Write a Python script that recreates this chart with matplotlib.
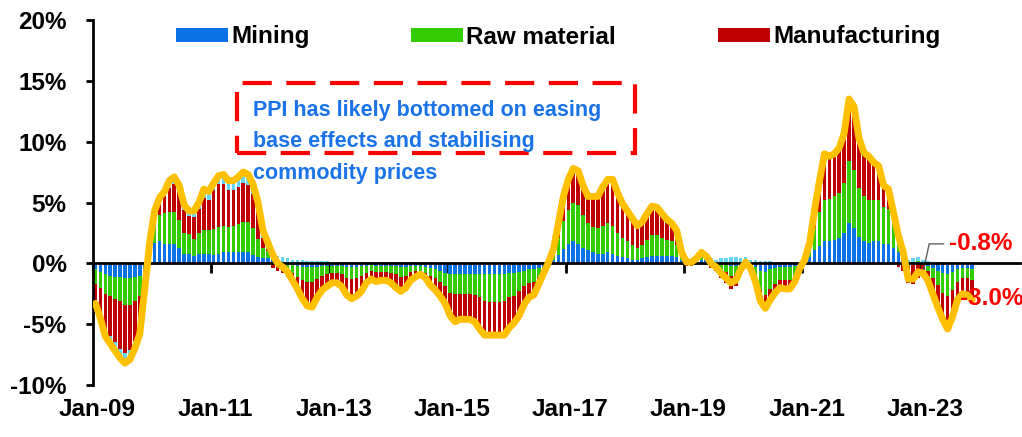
import numpy as np
import matplotlib.pyplot as plt
from matplotlib.patches import Rectangle

# China PPI, % yoy, monthly Jan-09 .. Nov-23
ppi = [
    -3.3, -4.5, -6.0, -6.6, -7.2, -7.8, -8.2, -7.9, -7.0, -5.8, -2.1, 1.7,
    4.3, 5.4, 5.9, 6.8, 7.1, 6.4, 4.8, 4.3, 4.3, 5.0, 6.1, 5.9,
    6.6, 7.2, 7.3, 6.8, 6.8, 7.1, 7.5, 7.3, 6.5, 5.0, 2.7, 1.7,
    0.7, 0.0, -0.3, -0.7, -1.4, -2.1, -2.9, -3.5, -3.6, -2.8, -2.2, -1.9,
    -1.6, -1.6, -1.9, -2.6, -2.9, -2.7, -2.3, -1.6, -1.3, -1.5, -1.4, -1.4,
    -1.6, -2.0, -2.3, -2.0, -1.4, -1.1, -0.9, -1.2, -1.8, -2.2, -2.7, -3.3,
    -4.3, -4.8, -4.6, -4.6, -4.6, -4.8, -5.4, -5.9, -5.9, -5.9, -5.9, -5.9,
    -5.3, -4.9, -4.3, -3.4, -2.8, -2.6, -1.7, -0.8, 0.1, 1.2, 3.3, 5.5,
    6.9, 7.8, 7.6, 6.4, 5.5, 5.5, 5.5, 6.3, 6.9, 6.9, 5.8, 4.9,
    4.3, 3.7, 3.1, 3.4, 4.1, 4.7, 4.6, 4.1, 3.6, 3.3, 2.7, 0.9,
    0.1, 0.1, 0.4, 0.9, 0.6, 0.0, -0.3, -0.8, -1.2, -1.6, -1.4, -0.5,
    0.1, -0.4, -1.5, -3.1, -3.7, -3.0, -2.4, -2.0, -2.1, -2.1, -1.5, -0.4,
    0.3, 1.7, 4.4, 6.8, 9.0, 8.8, 9.0, 9.5, 10.7, 13.5, 12.9, 10.3,
    9.1, 8.8, 8.3, 8.0, 6.4, 6.1, 4.2, 2.3, 0.9, -1.3, -1.3, -0.7,
    -0.8, -1.4, -2.5, -3.6, -4.6, -5.4, -4.4, -3.0, -2.5, -2.6, -3.0,
]

# contributions, ppt
mining = [
    -0.5, -0.7, -0.9, -1.0, -1.1, -1.1, -1.2, -1.2, -1.1, -1.0, -0.6, 0.3,
    1.7, 1.8, 1.6, 1.6, 1.6, 1.3, 0.8, 0.8, 0.6, 0.8, 0.8, 0.8,
    0.7, 0.8, 0.9, 0.9, 0.9, 0.9, 0.9, 0.9, 0.7, 0.5, 0.4, 0.4,
    0.3, 0.2, 0.1, 0.0, -0.1, -0.2, -0.3, -0.3, -0.3, -0.3, -0.2, -0.2,
    -0.2, -0.2, -0.2, -0.3, -0.3, -0.3, -0.2, -0.2, -0.1, -0.2, -0.2, -0.2,
    -0.2, -0.2, -0.3, -0.3, -0.2, -0.2, -0.2, -0.3, -0.4, -0.5, -0.6, -0.8,
    -0.9, -0.9, -0.9, -0.9, -0.9, -0.9, -0.9, -0.9, -0.9, -0.9, -0.9, -0.9,
    -0.8, -0.8, -0.7, -0.6, -0.5, -0.5, -0.4, -0.3, 0.0, 0.3, 0.7, 1.2,
    1.6, 1.8, 1.6, 1.3, 1.1, 0.9, 0.8, 0.8, 0.9, 0.8, 0.6, 0.5,
    0.4, 0.3, 0.3, 0.4, 0.5, 0.6, 0.6, 0.6, 0.6, 0.6, 0.5, 0.3,
    0.1, 0.1, 0.2, 0.3, 0.3, 0.1, 0.0, -0.1, -0.1, -0.2, -0.2, 0.0,
    0.2, 0.0, -0.3, -0.6, -0.7, -0.5, -0.4, -0.3, -0.3, -0.3, -0.2, 0.0,
    0.2, 0.5, 1.1, 1.4, 1.8, 1.8, 1.9, 2.1, 2.5, 3.3, 2.9, 2.2,
    1.8, 1.7, 1.8, 1.8, 1.6, 1.6, 1.3, 0.9, 0.5, 0.0, 0.1, 0.1,
    0.0, -0.2, -0.4, -0.6, -0.8, -0.9, -0.7, -0.5, -0.4, -0.4, -0.5,
]
raw_material = [
    -1.2, -1.3, -1.6, -1.7, -1.8, -2.0, -2.2, -2.2, -2.0, -1.7, -0.8, 0.6,
    2.0, 2.2, 2.5, 2.6, 2.6, 2.3, 1.7, 1.6, 1.4, 1.7, 1.9, 1.9,
    2.1, 2.2, 2.2, 2.1, 2.2, 2.3, 2.5, 2.5, 2.2, 1.5, 0.9, 0.6,
    0.2, 0.0, -0.2, -0.4, -0.7, -0.9, -1.1, -1.2, -1.2, -1.0, -0.8, -0.7,
    -0.6, -0.6, -0.7, -0.9, -1.0, -0.9, -0.8, -0.6, -0.5, -0.5, -0.5, -0.5,
    -0.6, -0.7, -0.8, -0.7, -0.5, -0.4, -0.4, -0.5, -0.6, -0.7, -0.9, -1.1,
    -1.5, -1.6, -1.6, -1.6, -1.6, -1.7, -1.9, -2.2, -2.3, -2.3, -2.3, -2.2,
    -2.0, -1.9, -1.6, -1.3, -1.1, -1.0, -0.7, -0.3, 0.1, 0.5, 1.4, 2.3,
    2.8, 3.2, 3.2, 2.7, 2.2, 2.1, 2.1, 2.3, 2.4, 2.3, 1.9, 1.6,
    1.4, 1.2, 1.0, 1.1, 1.4, 1.7, 1.7, 1.5, 1.3, 1.2, 1.0, 0.4,
    -0.1, -0.1, 0.0, 0.2, 0.1, -0.2, -0.3, -0.5, -0.6, -0.8, -0.7, -0.4,
    -0.1, -0.3, -0.8, -1.6, -1.9, -1.6, -1.3, -1.1, -1.1, -1.1, -0.8, -0.2,
    0.1, 0.7, 1.8, 2.8, 3.4, 3.5, 3.6, 3.7, 4.1, 5.1, 4.8, 4.0,
    3.7, 3.5, 3.4, 3.4, 3.0, 2.9, 2.2, 1.5, 0.8, -0.2, 0.0, 0.1,
    -0.1, -0.4, -0.8, -1.2, -1.6, -1.8, -1.5, -1.0, -0.8, -0.8, -0.9,
]
manufacturing = [
    -1.3, -2.1, -3.0, -3.3, -3.6, -3.9, -4.0, -3.7, -3.3, -2.7, -0.6, 0.7,
    0.4, 0.9, 1.4, 2.0, 2.3, 2.3, 1.9, 1.5, 1.8, 2.0, 2.7, 2.5,
    3.2, 3.5, 3.4, 3.0, 2.9, 3.1, 3.2, 3.0, 2.8, 2.3, 0.8, 0.2,
    -0.4, -0.6, -0.6, -0.7, -0.9, -1.3, -1.8, -2.2, -2.3, -1.7, -1.4, -1.2,
    -0.9, -0.9, -1.1, -1.5, -1.7, -1.6, -1.4, -0.9, -0.8, -0.9, -0.8, -0.8,
    -0.9, -1.2, -1.3, -1.1, -0.8, -0.6, -0.4, -0.5, -0.8, -1.0, -1.2, -1.4,
    -1.9, -2.2, -2.0, -2.0, -2.0, -2.1, -2.5, -2.7, -2.6, -2.6, -2.6, -2.7,
    -2.4, -2.1, -1.9, -1.5, -1.2, -1.1, -0.7, -0.3, -0.1, 0.3, 1.1, 1.8,
    2.3, 2.6, 2.6, 2.2, 2.0, 2.3, 2.4, 3.0, 3.4, 3.6, 3.1, 2.6,
    2.3, 2.0, 1.6, 1.7, 2.0, 2.2, 2.1, 1.8, 1.5, 1.3, 1.0, 0.0,
    -0.1, -0.1, 0.0, 0.1, -0.1, -0.2, -0.3, -0.6, -0.9, -1.1, -1.0, -0.5,
    -0.3, -0.4, -0.7, -1.1, -1.3, -1.1, -0.8, -0.7, -0.8, -0.8, -0.6, -0.2,
    0.0, 0.5, 1.5, 2.6, 3.7, 3.5, 3.5, 3.7, 4.0, 5.0, 5.1, 4.0,
    3.5, 3.5, 3.0, 2.7, 1.7, 1.4, 0.5, -0.3, -0.6, -1.4, -1.7, -1.2,
    -1.0, -1.0, -1.4, -1.9, -2.3, -2.7, -2.2, -1.5, -1.3, -1.4, -1.6,
]
consumer = [
    -0.3, -0.4, -0.5, -0.6, -0.7, -0.8, -0.8, -0.8, -0.6, -0.4, -0.1, 0.1,
    0.2, 0.5, 0.4, 0.6, 0.6, 0.5, 0.4, 0.4, 0.5, 0.5, 0.7, 0.7,
    0.6, 0.7, 0.8, 0.8, 0.8, 0.8, 0.9, 0.9, 0.8, 0.7, 0.6, 0.5,
    0.6, 0.4, 0.4, 0.4, 0.3, 0.3, 0.3, 0.2, 0.2, 0.2, 0.2, 0.2,
    0.1, 0.1, 0.1, 0.1, 0.1, 0.1, 0.1, 0.1, 0.1, 0.1, 0.1, 0.1,
    0.1, 0.1, 0.1, 0.1, 0.1, 0.1, 0.1, 0.1, 0.0, 0.0, 0.0, 0.0,
    0.0, -0.1, -0.1, -0.1, -0.1, -0.1, -0.1, -0.1, -0.1, -0.1, -0.1, -0.1,
    -0.1, -0.1, -0.1, 0.0, 0.0, 0.0, 0.1, 0.1, 0.1, 0.1, 0.1, 0.2,
    0.2, 0.2, 0.2, 0.2, 0.2, 0.2, 0.2, 0.2, 0.2, 0.2, 0.2, 0.2,
    0.2, 0.2, 0.2, 0.2, 0.2, 0.2, 0.2, 0.2, 0.2, 0.2, 0.2, 0.2,
    0.2, 0.2, 0.2, 0.3, 0.3, 0.3, 0.3, 0.4, 0.4, 0.5, 0.5, 0.4,
    0.3, 0.3, 0.3, 0.2, 0.2, 0.2, 0.1, 0.1, 0.1, 0.1, 0.1, 0.0,
    0.0, 0.0, 0.0, 0.0, 0.1, 0.0, 0.0, 0.0, 0.1, 0.1, 0.1, 0.1,
    0.1, 0.1, 0.1, 0.1, 0.1, 0.2, 0.2, 0.2, 0.2, 0.3, 0.3, 0.3,
    0.3, 0.2, 0.1, 0.1, 0.1, 0.0, 0.0, 0.0, 0.0, 0.0, 0.0,
]

series_names = ["Mining", "Raw material", "Manufacturing", "_consumer"]
series_colors = ["#0A72E6", "#33CC00", "#C00000", "#66D6F8"]
xtick_labels = ["Jan-09", "Jan-11", "Jan-13", "Jan-15", "Jan-17", "Jan-19", "Jan-21", "Jan-23"]
ytick_vals = [-10, -5, 0, 5, 10, 15, 20]
ytick_labels = ["-10%", "-5%", "0%", "5%", "10%", "15%", "20%"]
note_lines = ["PPI has likely bottomed on easing", "base effects and stabilising", "commodity prices"]
jan23 = 168  # month index of the -0.8% callout

fam = ["Liberation Sans", "DejaVu Sans"]
plt.rcParams["font.family"] = fam
plt.rcParams["font.weight"] = "bold"
FS = 17.5

W, H = 1022, 437
fig = plt.figure(figsize=(W / 100, H / 100), dpi=100)
ax = fig.add_axes([93 / W, 52 / H, 927 / W, 365 / H])

x = np.arange(len(ppi))
pos_base = np.zeros(len(x))
neg_base = np.zeros(len(x))
for vals, col, name in zip([mining, raw_material, manufacturing, consumer], series_colors, series_names):
    v = np.array(vals)
    base = np.where(v >= 0, pos_base, neg_base)
    ax.bar(x, v, bottom=base, width=0.72, color=col, label=name, linewidth=0, zorder=2)
    pos_base += np.clip(v, 0, None)
    neg_base += np.clip(v, None, 0)

ax.plot(x, ppi, color="#FFC000", lw=5, solid_joinstyle="round", solid_capstyle="round", zorder=4)

ax.set_xlim(-0.5, 187.7)
ax.set_ylim(-10, 20)

for s in ["top", "right"]:
    ax.spines[s].set_visible(False)
ax.spines["left"].set_linewidth(2)
ax.spines["bottom"].set_position(("data", 0))
ax.spines["bottom"].set_linewidth(2)
ax.spines["bottom"].set_zorder(3)

ax.set_yticks(ytick_vals)
ax.set_yticklabels(ytick_labels, fontsize=FS, fontweight="bold")
ax.tick_params(axis="y", direction="out", length=5, width=2, pad=14)

tick_pos = np.arange(0, len(ppi), 24) - 0.5
ax.set_xticks(tick_pos)
ax.set_xticklabels([])
ax.tick_params(axis="x", direction="out", length=7, width=2)
for p, lab in zip(tick_pos, xtick_labels):
    ax.text(p + 0.9, -0.068, lab, transform=ax.get_xaxis_transform(),
            ha="center", va="center", fontsize=FS, fontweight="bold")

fig.legend(loc="center left", bbox_to_anchor=(176 / W, 1 - 37 / H), ncol=3, frameon=False,
           prop={"family": fam, "size": FS, "weight": "bold"},
           handlelength=2.14, handleheight=0.55, handletextpad=0.12, columnspacing=4.2,
           borderpad=0, borderaxespad=0)

# note box
fig.patches.append(Rectangle((237 / W, 1 - 153 / H), 398 / W, 70 / H, transform=fig.transFigure,
                             fill=False, edgecolor="#FF0000", lw=3, linestyle=(0, (7, 3.5))))
for i, line in enumerate(note_lines):
    fig.text(253 / W, 1 - (110 + 32 * i) / H, line, ha="left", va="center", color="#1A73E8",
             fontsize=15.5, fontweight="bold")

# callouts
ax.annotate(f"{ppi[jan23]:.1f}%", xy=(jan23, ppi[jan23]), xytext=(19, 21), textcoords="offset points",
            ha="left", va="center", color="#FF0000", fontsize=FS, fontweight="bold",
            arrowprops=dict(arrowstyle="-", color="#606060", lw=1, shrinkA=2, shrinkB=0,
                            connectionstyle="angle,angleA=0,angleB=78,rad=0"))
last = len(ppi) - 1
ax.annotate(f"{ppi[last]:.1f}%", xy=(last, ppi[last]), xytext=(-9, 1), textcoords="offset points",
            ha="left", va="center", color="#FF0000", fontsize=FS, fontweight="bold", zorder=5)

fig.savefig("out.png", dpi=100)
